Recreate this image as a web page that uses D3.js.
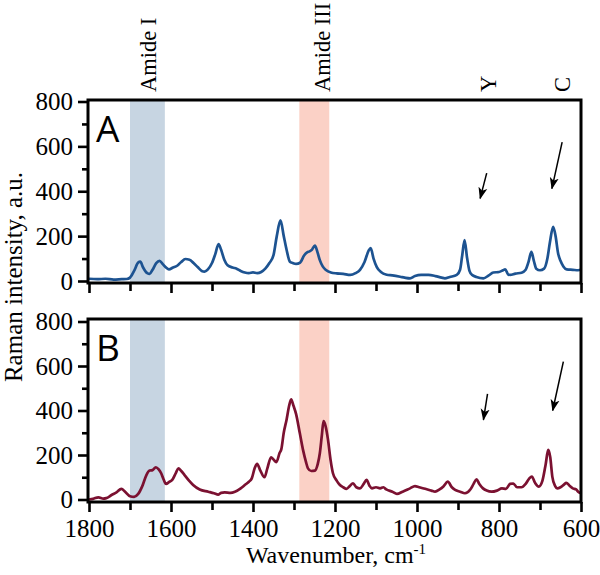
<!DOCTYPE html>
<html><head><meta charset="utf-8">
<script src="https://cdn.jsdelivr.net/npm/d3@7"></script>
<style>body{margin:0;background:#fff}svg{display:block}</style>
</head><body>
<script>
// ---- data ----
const waveA = [1800,1780,1760,1740,1720,1708,1700,1690,1680,1675,1668,1658,1652,1645,1636,1628,1620,1612,1605,1595,1585,1575,1565,1555,1545,1535,1525,1518,1510,1500,1492,1484,1478,1470,1462,1450,1440,1430,1420,1410,1400,1390,1380,1370,1360,1350,1342,1333,1325,1318,1310,1303,1295,1285,1275,1268,1262,1256,1249,1243,1237,1230,1222,1210,1196,1180,1163,1150,1139,1128,1118,1113,1106,1098,1088,1074,1060,1041,1030,1017,1005,990,972,955,940,932,920,903,895,890,884,878,872,866,855,838,825,814,800,790,785,778,773,760,745,735,728,721,715,709,700,690,682,676,668,662,656,650,643,635,620,607,600];
const intensityA = [10,8,10,6,8,9,15,45,82,86,60,35,32,50,80,90,75,60,52,60,68,85,98,95,80,62,45,42,52,80,120,165,140,95,70,60,55,45,38,35,38,35,40,55,80,115,200,270,200,138,86,80,76,82,115,128,132,140,158,130,93,65,49,38,34,32,27,35,50,85,135,147,100,62,40,28,25,19,15,12,22,27,27,22,15,12,18,27,50,110,182,105,45,28,18,12,25,38,40,48,52,30,27,33,37,50,85,130,90,55,48,55,100,170,241,200,125,90,65,52,50,48,50];
const waveB = [1800,1790,1777,1765,1758,1745,1733,1721,1712,1700,1690,1680,1670,1660,1652,1645,1637,1630,1624,1618,1612,1605,1597,1588,1582,1575,1567,1556,1546,1530,1509,1495,1485,1478,1469,1455,1444,1430,1420,1410,1403,1396,1390,1382,1372,1365,1356,1350,1343,1335,1331,1325,1318,1312,1307,1301,1295,1286,1278,1271,1266,1258,1249,1242,1237,1232,1228,1223,1217,1211,1205,1196,1188,1180,1172,1164,1156,1148,1139,1130,1123,1116,1110,1100,1090,1082,1075,1060,1049,1035,1017,1005,995,980,965,956,945,935,925,915,907,895,883,870,862,855,848,839,830,818,805,793,783,773,765,756,745,735,726,720,712,703,694,686,680,675,670,663,658,650,641,636,628,620,612,607,600];
const intensityB = [0,3,10,4,6,20,32,48,35,15,12,25,60,110,130,132,145,135,118,90,70,78,88,120,140,128,110,85,65,45,35,28,22,30,32,30,35,50,65,80,95,140,160,130,100,140,190,180,168,210,225,300,360,420,450,420,385,300,223,170,140,128,130,160,208,290,352,330,268,180,118,85,65,55,48,60,73,55,50,70,88,62,50,55,50,55,45,35,25,35,50,60,55,48,40,35,45,60,80,55,43,35,28,45,70,91,70,50,40,35,40,50,48,70,72,55,55,70,95,103,75,58,85,160,223,190,103,60,50,55,68,75,62,50,45,35,28];
const xTickValues = [1800,1600,1400,1200,1000,800,600];
const yTickValues = [0,200,400,600,800];
const bandNames = ["Amide I","Amide III"];
const bandFrom = [1700,1287];
const bandTo = [1615,1214];
const bandLabelAt = [1657,1232];
const markNames = ["Y","C"];
const markAt = [827,646];
// arrows: [tailWave, tailInt, tipWave, tipInt]
const arrowsA = [[830,481,846,368],[646,619,671,412]];
const arrowsB = [[828,475,838,358],[643,620,669,400]];
const panelNames = ["A","B"];

// ---- layout ----
const W = 600, H = 575;
const svg = d3.select("body").append("svg").attr("width",W).attr("height",H);
const x = d3.scaleLinear().domain([1800,600]).range([89,581]);
const panels = [
  {top:100, bottom:283, y: d3.scaleLinear().domain([0,800]).range([281,101.5]), w:waveA, v:intensityA, color:"#1d5391", arrows:arrowsA, labels:false},
  {top:319, bottom:502, y: d3.scaleLinear().domain([0,800]).range([499.5,321.5]), w:waveB, v:intensityB, color:"#7b1131", arrows:arrowsB, labels:true}
];
const bandColors = ["#c7d5e2","#fbd1c6"];
const serif = "'Liberation Serif','Times New Roman',serif";

const defs = svg.append("defs");
defs.append("marker").attr("id","ah").attr("viewBox","0 -5 12 10").attr("refX",11).attr("refY",0)
  .attr("markerWidth",12).attr("markerHeight",10).attr("markerUnits","userSpaceOnUse").attr("orient","auto")
  .append("path").attr("d","M0,-4.5L12,0L0,4.5L3,0Z").attr("fill","#000");

panels.forEach((p,pi)=>{
  const g = svg.append("g");
  bandFrom.forEach((b,i)=>{
    g.append("rect").attr("x",x(b)).attr("width",x(bandTo[i])-x(b))
      .attr("y",p.top).attr("height",p.bottom-p.top).attr("fill",bandColors[i]);
  });
  const line = d3.line().x((d,i)=>x(p.w[i])).y((d,i)=>p.y(p.v[i])).curve(d3.curveMonotoneX);
  g.append("path").datum(p.v).attr("d",line).attr("fill","none").attr("stroke",p.color)
    .attr("stroke-width",2.7).attr("stroke-linejoin","round");
  const xMinor = d3.range(1800,599,-100).filter(v=>!xTickValues.includes(v));
  g.append("g").attr("transform",`translate(0,${p.bottom})`)
    .call(d3.axisBottom(x).tickValues(xMinor).tickSize(8).tickFormat(""))
    .call(a=>a.select(".domain").remove()).selectAll("line").attr("stroke-width",2.6);
  const xa = g.append("g").attr("transform",`translate(0,${p.bottom})`)
    .call(d3.axisBottom(x).tickValues(xTickValues).tickSize(10).tickPadding(7).tickFormat(p.labels?d3.format("d"):""));
  xa.select(".domain").remove();
  xa.selectAll("line").attr("stroke-width",2.6);
  xa.selectAll("text").attr("font-family",serif).attr("font-size",25).attr("fill","#000");
  g.append("g").attr("transform",`translate(88,0)`)
    .call(d3.axisLeft(p.y).tickValues([100,300,500,700]).tickSize(6).tickFormat(""))
    .call(a=>a.select(".domain").remove()).selectAll("line").attr("stroke-width",2.6);
  const ya = g.append("g").attr("transform",`translate(88,0)`)
    .call(d3.axisLeft(p.y).tickValues(yTickValues).tickSize(10).tickPadding(5).tickFormat(d3.format("d")));
  ya.select(".domain").remove();
  ya.selectAll("line").attr("stroke-width",2.6);
  ya.selectAll("text").attr("font-family",serif).attr("font-size",25).attr("fill","#000");
  g.append("rect").attr("x",88).attr("y",p.top).attr("width",581-88).attr("height",p.bottom-p.top)
    .attr("fill","none").attr("stroke","#000").attr("stroke-width",3);
  g.append("text").attr("x",96).attr("y",p.top+42).text(panelNames[pi])
    .attr("font-family","'Open Sans',sans-serif").attr("font-size",37).attr("fill","#000");
  p.arrows.forEach(a=>{
    g.append("line").attr("x1",x(a[0])).attr("y1",p.y(a[1])).attr("x2",x(a[2])).attr("y2",p.y(a[3]))
      .attr("stroke","#000").attr("stroke-width",1.5).attr("marker-end","url(#ah)");
  });
});

bandNames.forEach((n,i)=>{
  svg.append("text").attr("transform",`translate(${x(bandLabelAt[i])},92) rotate(-90)`)
    .attr("dy","0.35em").text(n).attr("font-family",serif).attr("font-size",22.5).attr("fill","#000");
});
markNames.forEach((n,i)=>{
  svg.append("text").attr("transform",`translate(${x(markAt[i])},92) rotate(-90)`)
    .attr("dy","0.35em").text(n).attr("font-family",serif).attr("font-size",22.5).attr("fill","#000");
});

svg.append("text").attr("transform","translate(22,277) rotate(-90)").attr("text-anchor","middle")
  .attr("font-family",serif).attr("font-size",25).attr("fill","#000").text("Raman intensity, a.u.");
const xt = svg.append("text").attr("x",336).attr("y",563).attr("text-anchor","middle")
  .attr("font-family",serif).attr("font-size",24).attr("fill","#000");
xt.append("tspan").text("Wavenumber, cm");
xt.append("tspan").attr("dy",-9).attr("font-size",15).text("-1");
</script>
</body></html>
